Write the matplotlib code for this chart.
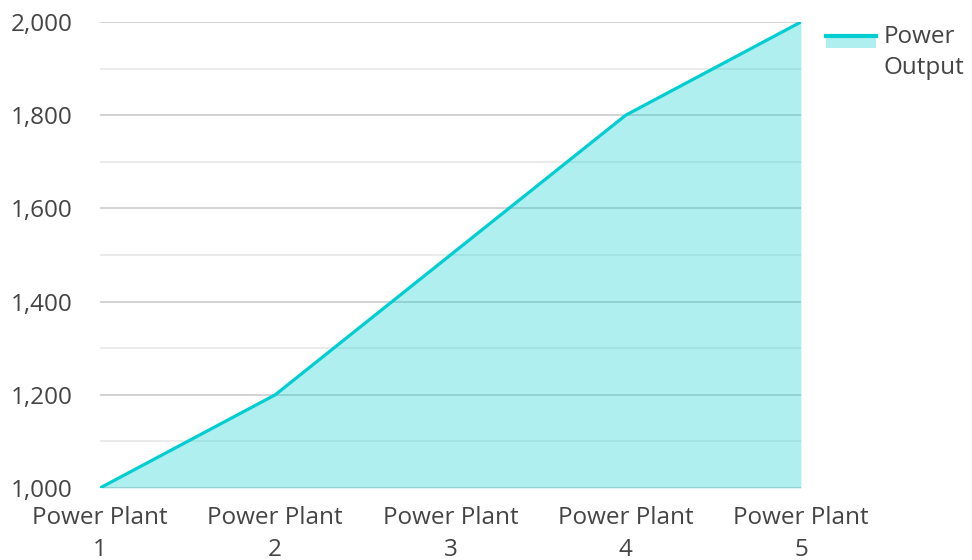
import matplotlib
matplotlib.use("Agg")
import matplotlib.pyplot as plt
from matplotlib.patches import Rectangle
from matplotlib.lines import Line2D
from matplotlib.legend_handler import HandlerBase
from matplotlib.ticker import MultipleLocator, FuncFormatter

plt.rcParams['font.family'] = ['Open Sans', 'DejaVu Sans']

# ---------- data ----------
plants = ["Power Plant\n1", "Power Plant\n2", "Power Plant\n3", "Power Plant\n4", "Power Plant\n5"]
power_output = [1000, 1200, 1500, 1800, 2000]

line_color = "#00CED1"
text_color = "#444444"
fs = 17.5


class AreaHandler(HandlerBase):
    # line on top of a filled strip, like the area legend swatch
    def create_artists(self, legend, orig_handle, xdescent, ydescent,
                       width, height, fontsize, trans):
        top = -ydescent + height / 2 + 12
        rect = Rectangle((-xdescent, top - 8.5), width, 8.5,
                         facecolor=line_color, alpha=0.31, linewidth=0, transform=trans)
        line = Line2D([-xdescent, -xdescent + width], [top, top],
                      color=line_color, linewidth=3, transform=trans)
        return [rect, line]


fig = plt.figure(figsize=(9.72, 5.6), dpi=100)
ax = fig.add_axes([0.1029, 0.1286, 0.824 - 0.1029, 0.9607 - 0.1286])

xs = list(range(len(plants)))
ax.fill_between(xs, power_output, 1000, color=line_color, alpha=0.31, linewidth=0, zorder=2)
ax.plot(xs, power_output, color=line_color, linewidth=2.3, zorder=3)

ax.set_xlim(0, len(plants) - 1)
ax.set_ylim(1000, 2000)
ax.yaxis.set_major_locator(MultipleLocator(200))
ax.yaxis.set_minor_locator(MultipleLocator(100))
ax.yaxis.set_major_formatter(FuncFormatter(lambda v, p: f"{int(v):,}"))
ax.grid(axis="y", which="major", color="#cccccc", linewidth=1.2, zorder=1)
ax.grid(axis="y", which="minor", color="#e8e8e8", linewidth=1.2, zorder=1)
ax.set_axisbelow(True)

ax.set_xticks(xs)
ax.set_xticklabels(plants, fontsize=fs, color=text_color, linespacing=1.42)
ax.tick_params(axis="y", which="both", length=0, pad=19.5, labelsize=fs, labelcolor=text_color)
ax.tick_params(axis="x", length=0, pad=13)
for s in ax.spines.values():
    s.set_visible(False)

leg = fig.legend([object()], ["Power\nOutput"], loc="upper left",
                 bbox_to_anchor=(0.832, 0.985), frameon=False, fontsize=fs,
                 labelcolor=text_color, handlelength=2.05, handletextpad=0.33,
                 borderpad=0.2, handler_map={object: AreaHandler()})
for t in leg.get_texts():
    t.set_linespacing(1.35)

fig.savefig("out.png", dpi=100)
